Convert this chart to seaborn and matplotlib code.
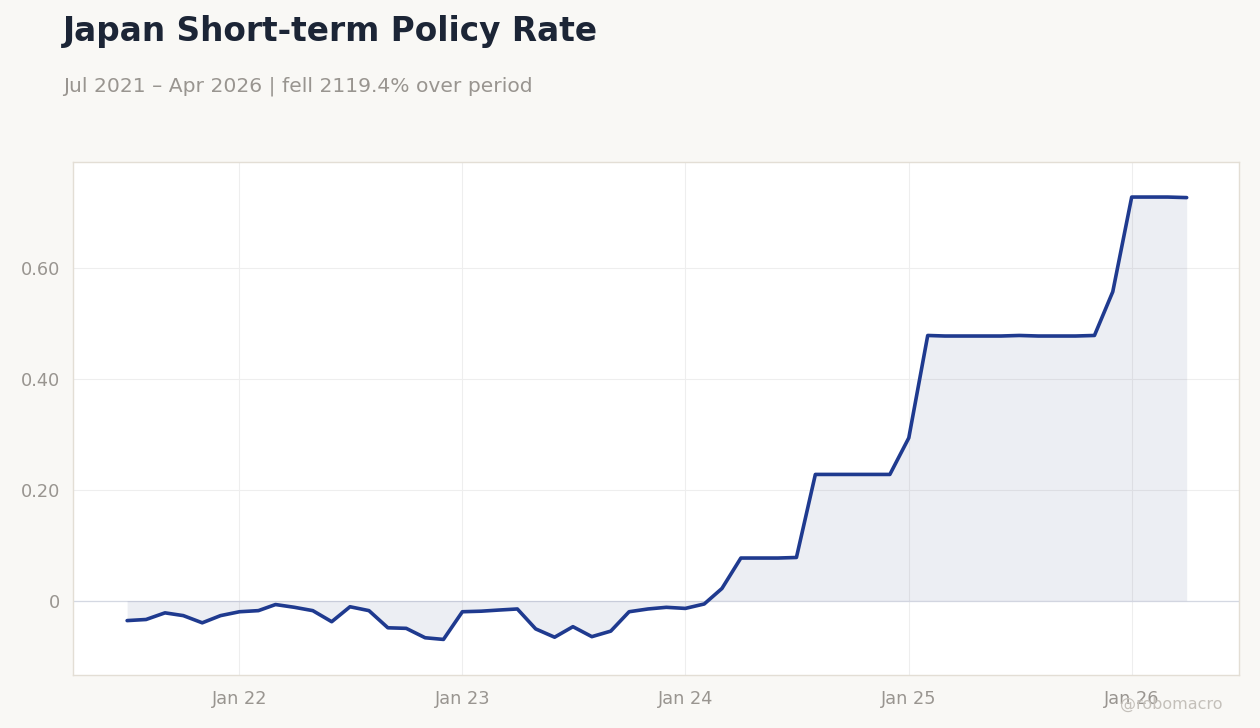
import numpy as np
import pandas as pd
import matplotlib
matplotlib.use("Agg")
import matplotlib.pyplot as plt
import matplotlib.dates as mdates
import matplotlib.ticker as ticker
import seaborn as sns

# monthly values, Jul 2021 .. Apr 2026
dates = pd.date_range("2021-07-01", "2026-04-01", freq="MS")
rate = [-0.036, -0.034, -0.022, -0.027, -0.040, -0.027,
        -0.020, -0.018, -0.007, -0.012, -0.018, -0.038,
        -0.011, -0.018, -0.049, -0.050, -0.067, -0.070,
        -0.020, -0.019, -0.017, -0.015, -0.051, -0.066,
        -0.047, -0.065, -0.055, -0.020, -0.015, -0.012,
        -0.014, -0.006, 0.022, 0.077, 0.077, 0.077,
        0.078, 0.228, 0.228, 0.228, 0.228, 0.228,
        0.294, 0.479, 0.478, 0.478, 0.478, 0.478,
        0.479, 0.478, 0.478, 0.478, 0.479, 0.558,
        0.729, 0.729, 0.729, 0.728]
df = pd.DataFrame({"date": dates, "rate": rate})

sns.set_theme(style="white")
plt.rcParams["font.family"] = ["DejaVu Sans"]

bg = "#f9f8f5"
line_col = "#1f3a8f"
grey = "#999590"

fig = plt.figure(figsize=(12.6, 7.28), dpi=100, facecolor=bg)
ax = fig.add_axes([0.058, 0.073, 0.925, 0.705])
ax.set_facecolor("white")

ax.fill_between(df["date"], 0, df["rate"], color="#34457a", alpha=0.09, linewidth=0)
ax.axhline(0, color=line_col, alpha=0.12, linewidth=1)
sns.lineplot(data=df, x="date", y="rate", ax=ax, color=line_col, linewidth=2.6)

span = dates[-1] - dates[0]
ax.set_xlim(dates[0] - span * 0.051, dates[-1] + span * 0.049)
ax.set_ylim(-0.134, 0.793)

ax.xaxis.set_major_locator(mdates.YearLocator(month=1))
ax.xaxis.set_major_formatter(mdates.DateFormatter("Jan %y"))
ax.yaxis.set_major_locator(ticker.FixedLocator([0, 0.2, 0.4, 0.6]))
ax.yaxis.set_major_formatter(ticker.FuncFormatter(lambda v, p: "0" if abs(v) < 1e-9 else f"{v:.2f}"))

ax.grid(True, color="#eeeeee", linewidth=0.8)
ax.set_xlabel("")
ax.set_ylabel("")
ax.tick_params(axis="both", labelsize=12.8, colors=grey, length=5, width=0.8,
               color="#cccccc", pad=6)
ax.tick_params(axis="y", length=0, pad=9)
for s in ax.spines.values():
    s.set_color("#e3ded5")
    s.set_linewidth(1)

fig.text(0.050, 0.957, "Japan Short-term Policy Rate", fontsize=23.6, fontweight="bold",
         color="#1c2536", va="center")
fig.text(0.050, 0.882, "Jul 2021 \u2013 Apr 2026 | fell 2119.4% over period", fontsize=14.6,
         color=grey, va="center")
fig.text(0.970, 0.032, "@robomacro", fontsize=11.5, color="#c4c0ba", ha="right", va="center")

fig.savefig("out.png", dpi=100, facecolor=bg)
